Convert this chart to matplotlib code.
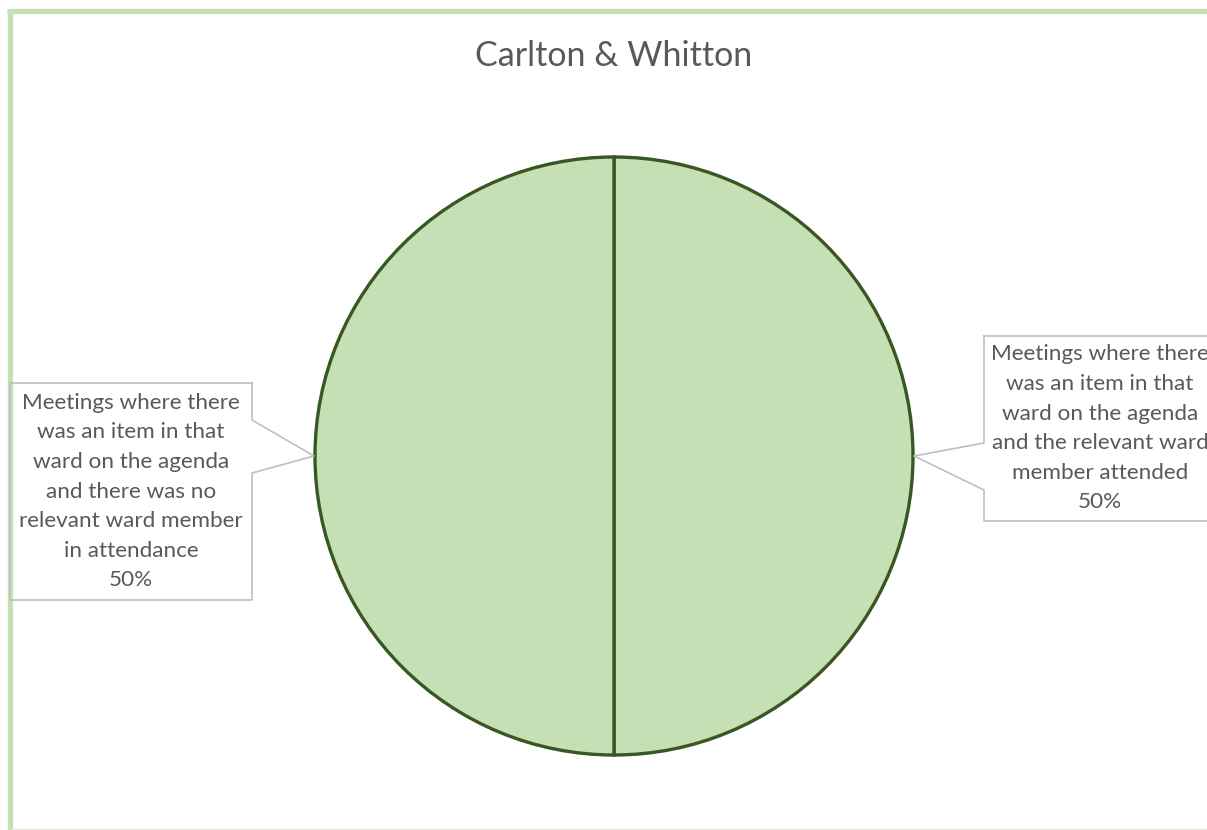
import matplotlib
matplotlib.use("Agg")
from matplotlib import pyplot as plt

# data
title = "Carlton & Whitton"
categories = [
    "Meetings where there\nwas an item in that\nward on the agenda\nand the relevant ward\nmember attended",
    "Meetings where there\nwas an item in that\nward on the agenda\nand there was no\nrelevant ward member\nin attendance",
]
shares = [50, 50]

# style
W, H = 1207, 830
FILL = "#C5E0B4"
EDGE = "#385723"
TXT = "#595959"
BOX = "#BFBFBF"
FONT = "Lato"

fig = plt.figure(figsize=(W / 100, H / 100), dpi=100)
ax = fig.add_axes([0, 0, 1, 1])
ax.set_xlim(0, W)
ax.set_ylim(0, H)
ax.axis("off")

def py(y):
    # pixel row -> data y
    return H - y

# chart border
ax.plot([9.5, 9.5], [py(9), py(830)], color=FILL, lw=3.8, solid_capstyle="butt")
ax.plot([7, W], [py(11.5), py(11.5)], color=FILL, lw=3.8, solid_capstyle="butt")
ax.plot([12, W], [py(829), py(829)], color="#E2EFDA", lw=1)

# pie
cx, cy, r = 614, py(456), 299
ax.pie(shares, center=(cx, cy), radius=r, startangle=90, counterclock=False,
       colors=[FILL] * len(shares),
       wedgeprops=dict(edgecolor=EDGE, linewidth=2.4))
ax.set_xlim(0, W)
ax.set_ylim(0, H)
ax.set_aspect("auto")

ax.text(614, py(56), title, ha="center", va="center", fontsize=24.5,
        color=TXT, family=FONT)

# callout boxes: (left, top, right, bottom, notch top, notch bottom, tip x, side)
boxes = [
    (984, 336, 1215, 521, 443, 490, 914, "left"),
    (10, 383, 252, 600, 420, 473, 314, "right"),
]
for (lab, pct, b) in zip(categories, shares, boxes):
    x0, y0, x1, y1, n0, n1, tipx, side = b
    if side == "left":
        xs = [x0, x0, tipx, x0, x0, x1, x1, x0]
        ys = [y0, n0, 456, n1, y1, y1, y0, y0]
    else:
        xs = [x1, x1, tipx, x1, x1, x0, x0, x1]
        ys = [y0, n0, 456, n1, y1, y1, y0, y0]
    ax.plot(xs, [py(v) for v in ys], color=BOX, lw=1.2, clip_on=False)
    tx = 1100 if side == "left" else 131
    ax.text(tx, py((y0 + y1) / 2), f"{lab}\n{pct:.0f}%", ha="center",
            va="center", fontsize=16.2, color=TXT, family=FONT,
            linespacing=1.6)

fig.savefig("out.png", dpi=100)
